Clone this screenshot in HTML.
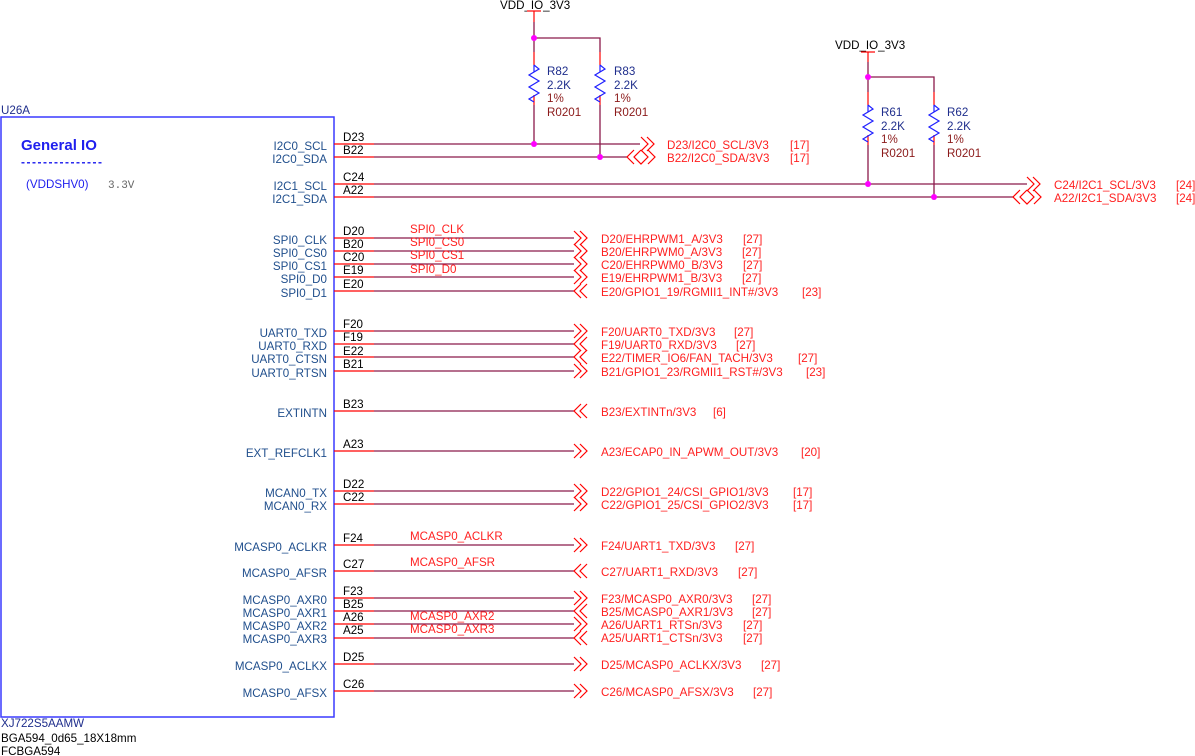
<!DOCTYPE html>
<html><head><meta charset="utf-8"><style>
html,body{margin:0;padding:0;background:#fff;}
svg{display:block;font-family:"Liberation Sans",sans-serif;font-size:11.6px;}
.pn{fill:#1f4e8c;text-anchor:end;}
.bl{fill:#000;}
.nl{fill:#ff2020;}
.st{stroke:#ff0000;stroke-width:1.3;}
.wr{stroke:#8b1a4a;stroke-width:1.3;}
.rv{fill:#8b1a1a;}
.rb{fill:#1f2e8c;}
</style></head><body>
<svg width="1195" height="756" viewBox="0 0 1195 756" xmlns="http://www.w3.org/2000/svg">
<defs>
<path id="R" d="M0,0 L0,-7 M0,-7 L5,-3 L-5,3 L5,9 L-5,15 L5,21 L-5,27 L0,30" fill="none" stroke="#2020ff" stroke-width="1.2"/>
<path id="AR" d="M0,-7 L7,0 L0,7 M6,-7 L13,0 L6,7" fill="none" stroke="#ff0000" stroke-width="1.2"/>
<path id="AL" d="M7,-7 L0,0 L7,7 M13,-7 L6,0 L13,7" fill="none" stroke="#ff0000" stroke-width="1.2"/>
<path id="AB" d="M7,-7 L0,0 L7,7 M14,-7 L7,0 L14,7 L21,0 L14,-7 M21,-7 L28,0 L21,7" fill="none" stroke="#ff0000" stroke-width="1.2"/>
</defs>

<rect x="1" y="117" width="333" height="600" fill="none" stroke="#3a3aff" stroke-width="1.5"/>
<text x="1" y="114" fill="#1f2e8c">U26A</text>
<text x="21" y="150" fill="#2020ee" font-weight="bold" font-size="15">General IO</text>
<text x="21" y="166" fill="#2020ee" font-weight="bold" font-size="12" letter-spacing="1.5">---------------</text>
<text x="26" y="188" fill="#2020ee">(VDDSHV0)</text>
<text x="108" y="188" fill="#666" font-family="Liberation Mono,monospace" font-size="11">3.3V</text>
<text x="1" y="727" fill="#1f2e8c">XJ722S5AAMW</text>
<text x="1" y="742" fill="#000">BGA594_0d65_18X18mm</text>
<text x="1" y="755" fill="#000">FCBGA594</text>

<g class="pn">
<text x="327" y="150">I2C0_SCL</text><text x="327" y="163">I2C0_SDA</text>
<text x="327" y="190">I2C1_SCL</text><text x="327" y="203">I2C1_SDA</text>
<text x="327" y="244">SPI0_CLK</text><text x="327" y="257">SPI0_CS0</text><text x="327" y="270">SPI0_CS1</text><text x="327" y="283">SPI0_D0</text><text x="327" y="297">SPI0_D1</text>
<text x="327" y="337">UART0_TXD</text><text x="327" y="350">UART0_RXD</text><text x="327" y="363">UART0_CTSN</text><text x="327" y="377">UART0_RTSN</text>
<text x="327" y="417">EXTINTN</text>
<text x="327" y="457">EXT_REFCLK1</text>
<text x="327" y="497">MCAN0_TX</text><text x="327" y="510">MCAN0_RX</text>
<text x="327" y="551">MCASP0_ACLKR</text>
<text x="327" y="577">MCASP0_AFSR</text>
<text x="327" y="604">MCASP0_AXR0</text><text x="327" y="617">MCASP0_AXR1</text><text x="327" y="630">MCASP0_AXR2</text><text x="327" y="643">MCASP0_AXR3</text>
<text x="327" y="670">MCASP0_ACLKX</text>
<text x="327" y="697">MCASP0_AFSX</text>
</g>

<g class="bl">
<text x="343" y="141">D23</text><text x="343" y="154">B22</text>
<text x="343" y="181">C24</text><text x="343" y="194">A22</text>
<text x="343" y="235">D20</text><text x="343" y="248">B20</text><text x="343" y="261">C20</text><text x="343" y="274">E19</text><text x="343" y="288">E20</text>
<text x="343" y="328">F20</text><text x="343" y="341">F19</text><text x="343" y="355">E22</text><text x="343" y="368">B21</text>
<text x="343" y="408">B23</text>
<text x="343" y="448">A23</text>
<text x="343" y="488">D22</text><text x="343" y="501">C22</text>
<text x="343" y="542">F24</text>
<text x="343" y="568">C27</text>
<text x="343" y="595">F23</text><text x="343" y="608">B25</text><text x="343" y="621">A26</text><text x="343" y="634">A25</text>
<text x="343" y="661">D25</text>
<text x="343" y="688">C26</text>
</g>

<g class="st">
<line x1="334" y1="144" x2="374" y2="144"/><line x1="334" y1="157" x2="374" y2="157"/>
<line x1="334" y1="184" x2="374" y2="184"/><line x1="334" y1="197" x2="374" y2="197"/>
<line x1="334" y1="238" x2="374" y2="238"/><line x1="334" y1="251" x2="374" y2="251"/><line x1="334" y1="264" x2="374" y2="264"/><line x1="334" y1="277" x2="374" y2="277"/><line x1="334" y1="291" x2="374" y2="291"/>
<line x1="334" y1="331" x2="374" y2="331"/><line x1="334" y1="344" x2="374" y2="344"/><line x1="334" y1="357" x2="374" y2="357"/><line x1="334" y1="371" x2="374" y2="371"/>
<line x1="334" y1="411" x2="374" y2="411"/><line x1="334" y1="451" x2="374" y2="451"/>
<line x1="334" y1="491" x2="374" y2="491"/><line x1="334" y1="504" x2="374" y2="504"/>
<line x1="334" y1="545" x2="374" y2="545"/><line x1="334" y1="571" x2="374" y2="571"/>
<line x1="334" y1="598" x2="374" y2="598"/><line x1="334" y1="611" x2="374" y2="611"/><line x1="334" y1="624" x2="374" y2="624"/><line x1="334" y1="638" x2="374" y2="638"/>
<line x1="334" y1="664" x2="374" y2="664"/><line x1="334" y1="691" x2="374" y2="691"/>
</g>
<g class="wr">
<line x1="374" y1="144" x2="640" y2="144"/><line x1="374" y1="157" x2="627" y2="157"/>
<line x1="374" y1="184" x2="1027" y2="184"/><line x1="374" y1="197" x2="1014" y2="197"/>
<line x1="374" y1="238" x2="574" y2="238"/><line x1="374" y1="251" x2="574" y2="251"/><line x1="374" y1="264" x2="574" y2="264"/><line x1="374" y1="277" x2="574" y2="277"/><line x1="374" y1="291" x2="574" y2="291"/>
<line x1="374" y1="331" x2="574" y2="331"/><line x1="374" y1="344" x2="574" y2="344"/><line x1="374" y1="357" x2="574" y2="357"/><line x1="374" y1="371" x2="574" y2="371"/>
<line x1="374" y1="411" x2="574" y2="411"/><line x1="374" y1="451" x2="574" y2="451"/>
<line x1="374" y1="491" x2="574" y2="491"/><line x1="374" y1="504" x2="574" y2="504"/>
<line x1="374" y1="545" x2="574" y2="545"/><line x1="374" y1="571" x2="574" y2="571"/>
<line x1="374" y1="598" x2="574" y2="598"/><line x1="374" y1="611" x2="574" y2="611"/><line x1="374" y1="624" x2="574" y2="624"/><line x1="374" y1="638" x2="574" y2="638"/>
<line x1="374" y1="664" x2="574" y2="664"/><line x1="374" y1="691" x2="574" y2="691"/>
</g>

<use href="#AR" x="641" y="144"/><use href="#AB" x="627" y="157"/>
<use href="#AR" x="1027" y="184"/><use href="#AB" x="1013" y="197"/>
<use href="#AR" x="574" y="238"/><use href="#AR" x="574" y="251"/><use href="#AR" x="574" y="264"/><use href="#AR" x="574" y="277"/><use href="#AL" x="574" y="291"/>
<use href="#AR" x="574" y="331"/><use href="#AL" x="574" y="344"/><use href="#AL" x="574" y="357"/><use href="#AR" x="574" y="371"/>
<use href="#AL" x="574" y="411"/><use href="#AR" x="574" y="451"/>
<use href="#AR" x="574" y="491"/><use href="#AR" x="574" y="504"/>
<use href="#AR" x="574" y="545"/><use href="#AL" x="574" y="571"/>
<use href="#AR" x="574" y="598"/><use href="#AL" x="574" y="611"/><use href="#AR" x="574" y="624"/><use href="#AL" x="574" y="638"/>
<use href="#AR" x="574" y="664"/><use href="#AR" x="574" y="691"/>

<g class="nl">
<text x="410" y="233">SPI0_CLK</text><text x="410" y="246">SPI0_CS0</text><text x="410" y="259">SPI0_CS1</text><text x="410" y="273">SPI0_D0</text>
<text x="410" y="540">MCASP0_ACLKR</text><text x="410" y="566">MCASP0_AFSR</text>
<text x="410" y="620">MCASP0_AXR2</text><text x="410" y="633">MCASP0_AXR3</text>
</g>

<g class="nl">
<text x="667" y="149">D23/I2C0_SCL/3V3</text><text x="790" y="149">[17]</text>
<text x="667" y="162">B22/I2C0_SDA/3V3</text><text x="790" y="162">[17]</text>
<text x="1054" y="189">C24/I2C1_SCL/3V3</text><text x="1176" y="189">[24]</text>
<text x="1054" y="202">A22/I2C1_SDA/3V3</text><text x="1176" y="202">[24]</text>
<text x="601" y="243">D20/EHRPWM1_A/3V3</text><text x="743" y="243">[27]</text>
<text x="601" y="256">B20/EHRPWM0_A/3V3</text><text x="742" y="256">[27]</text>
<text x="601" y="269">C20/EHRPWM0_B/3V3</text><text x="743" y="269">[27]</text>
<text x="601" y="282">E19/EHRPWM1_B/3V3</text><text x="742" y="282">[27]</text>
<text x="601" y="296">E20/GPIO1_19/RGMII1_INT#/3V3</text><text x="802" y="296">[23]</text>
<text x="601" y="336">F20/UART0_TXD/3V3</text><text x="734" y="336">[27]</text>
<text x="601" y="349">F19/UART0_RXD/3V3</text><text x="736" y="349">[27]</text>
<text x="601" y="362">E22/TIMER_IO6/FAN_TACH/3V3</text><text x="798" y="362">[27]</text>
<text x="601" y="376">B21/GPIO1_23/RGMII1_RST#/3V3</text><text x="806" y="376">[23]</text>
<text x="601" y="416">B23/EXTINTn/3V3</text><text x="713" y="416">[6]</text>
<text x="601" y="456">A23/ECAP0_IN_APWM_OUT/3V3</text><text x="801" y="456">[20]</text>
<text x="601" y="496">D22/GPIO1_24/CSI_GPIO1/3V3</text><text x="793" y="496">[17]</text>
<text x="601" y="509">C22/GPIO1_25/CSI_GPIO2/3V3</text><text x="793" y="509">[17]</text>
<text x="601" y="550">F24/UART1_TXD/3V3</text><text x="735" y="550">[27]</text>
<text x="601" y="576">C27/UART1_RXD/3V3</text><text x="738" y="576">[27]</text>
<text x="601" y="603">F23/MCASP0_AXR0/3V3</text><text x="752" y="603">[27]</text>
<text x="601" y="616">B25/MCASP0_AXR1/3V3</text><text x="752" y="616">[27]</text>
<text x="601" y="629">A26/UART1_RTSn/3V3</text><text x="743" y="629">[27]</text>
<text x="601" y="642">A25/UART1_CTSn/3V3</text><text x="743" y="642">[27]</text>
<text x="601" y="669">D25/MCASP0_ACLKX/3V3</text><text x="761" y="669">[27]</text>
<text x="601" y="696">C26/MCASP0_AFSX/3V3</text><text x="753" y="696">[27]</text>
</g>

<text x="500" y="9" fill="#000">VDD_IO_3V3</text>
<line x1="527" y1="11" x2="541" y2="11" stroke="#ff0000" stroke-width="1.2"/>
<line x1="534" y1="11" x2="534" y2="22" stroke="#ff0000" stroke-width="1.2"/>
<g class="wr" fill="none">
<polyline points="534,22 534,52"/><polyline points="534,38 600,38 600,52"/>
<line x1="534" y1="105" x2="534" y2="144"/><line x1="600" y1="105" x2="600" y2="157"/>
</g>
<g stroke="#ff0000" stroke-width="1.2"><line x1="534" y1="52" x2="534" y2="65"/><line x1="600" y1="52" x2="600" y2="65"/><line x1="534" y1="95" x2="534" y2="105"/><line x1="600" y1="95" x2="600" y2="105"/></g>
<use href="#R" x="534" y="72"/><use href="#R" x="600" y="72"/>
<circle cx="534" cy="38" r="3" fill="#ff00ff"/><circle cx="534" cy="144" r="3" fill="#ff00ff"/><circle cx="600" cy="157" r="3" fill="#ff00ff"/>
<text x="547" y="75" class="rb">R82</text><text x="547" y="89" class="rb">2.2K</text><text x="547" y="102" class="rv">1%</text><text x="547" y="116" class="rv">R0201</text>
<text x="614" y="75" class="rb">R83</text><text x="614" y="89" class="rb">2.2K</text><text x="614" y="102" class="rv">1%</text><text x="614" y="116" class="rv">R0201</text>

<text x="835" y="49" fill="#000">VDD_IO_3V3</text>
<line x1="861" y1="52" x2="875" y2="52" stroke="#ff0000" stroke-width="1.2"/>
<line x1="868" y1="52" x2="868" y2="62" stroke="#ff0000" stroke-width="1.2"/>
<g class="wr" fill="none">
<polyline points="868,62 868,92"/><polyline points="868,77 934,77 934,92"/>
<line x1="868" y1="145" x2="868" y2="184"/><line x1="934" y1="145" x2="934" y2="197"/>
</g>
<g stroke="#ff0000" stroke-width="1.2"><line x1="868" y1="92" x2="868" y2="105"/><line x1="934" y1="92" x2="934" y2="105"/><line x1="868" y1="135" x2="868" y2="145"/><line x1="934" y1="135" x2="934" y2="145"/></g>
<use href="#R" x="868" y="112"/><use href="#R" x="934" y="112"/>
<circle cx="868" cy="77" r="3" fill="#ff00ff"/><circle cx="868" cy="184" r="3" fill="#ff00ff"/><circle cx="934" cy="197" r="3" fill="#ff00ff"/>
<text x="881" y="116" class="rb">R61</text><text x="881" y="130" class="rb">2.2K</text><text x="881" y="143" class="rv">1%</text><text x="881" y="157" class="rv">R0201</text>
<text x="947" y="116" class="rb">R62</text><text x="947" y="130" class="rb">2.2K</text><text x="947" y="143" class="rv">1%</text><text x="947" y="157" class="rv">R0201</text>
</svg>
</body></html>
